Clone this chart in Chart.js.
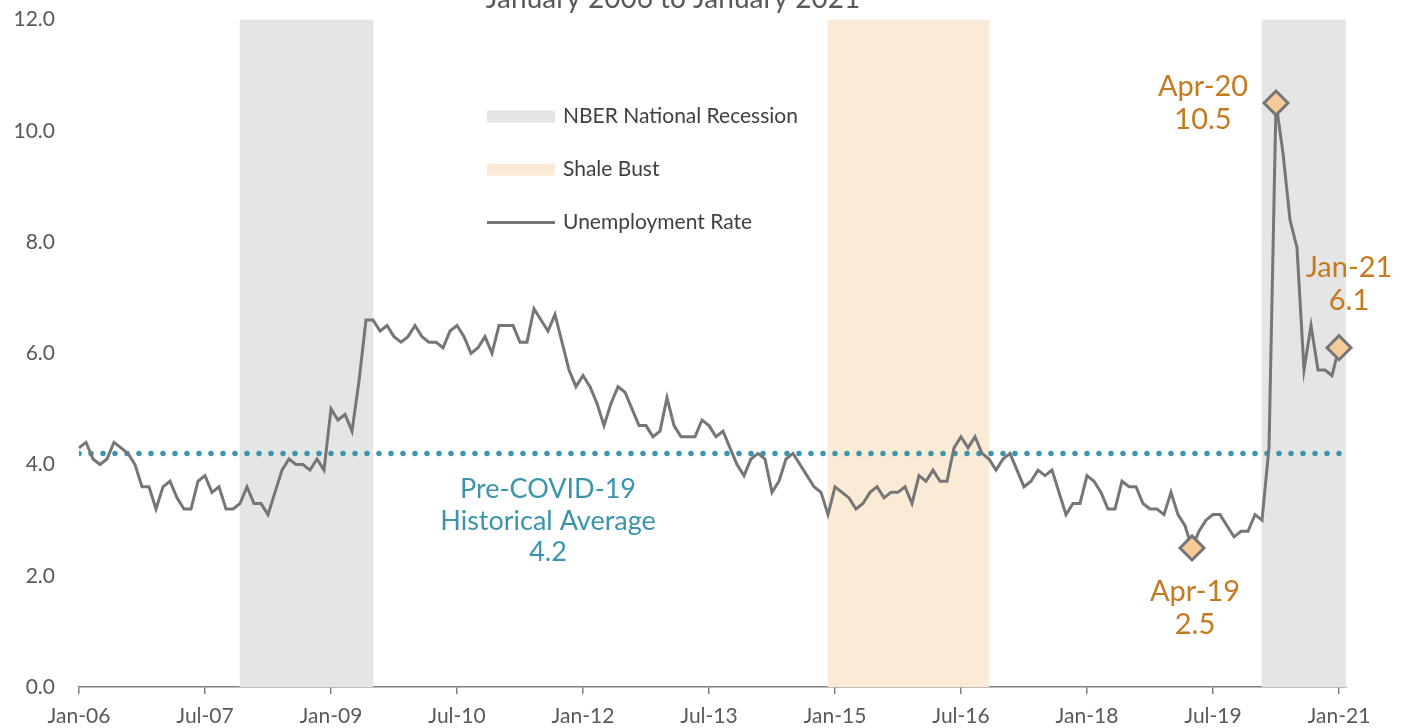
<!DOCTYPE html>
<html>
<head>
<meta charset="utf-8">
<title>Unemployment Rate</title>
<script src="https://cdn.jsdelivr.net/npm/chart.js@4/dist/chart.umd.min.js"></script>
<style>
    html, body { margin: 0; padding: 0; background: #fff; overflow: hidden; }
    #wrap { position: absolute; left: 0; top: -20px; width: 1408px; height: 748px; }
</style>
</head>
<body>
<div id="wrap"><canvas id="myChart" width="1408" height="748"></canvas></div>
<script>
'use strict';

// monthly categories Jan-06 .. Jan-21
let monthNames = ['Jan', 'Feb', 'Mar', 'Apr', 'May', 'Jun', 'Jul', 'Aug', 'Sep', 'Oct', 'Nov', 'Dec'];
let months = [];
for (let yr = 2006; yr <= 2021; yr++) {
    for (let m = 0; m < 12; m++) {
        months.push(monthNames[m] + '-' + String(yr).slice(2));
    }
}
months.length = 181;

let tickLabels = ['Jan-06', 'Jul-07', 'Jan-09', 'Jul-10', 'Jan-12', 'Jul-13', 'Jan-15', 'Jul-16', 'Jan-18', 'Jul-19', 'Jan-21'];

let unemploymentRate = [
    4.3, 4.4, 4.1, 4.0, 4.1, 4.4, 4.3, 4.2, 4.0, 3.6, 3.6, 3.2,   // 2006
    3.6, 3.7, 3.4, 3.2, 3.2, 3.7, 3.8, 3.5, 3.6, 3.2, 3.2, 3.3,   // 2007
    3.6, 3.3, 3.3, 3.1, 3.5, 3.9, 4.1, 4.0, 4.0, 3.9, 4.1, 3.9,   // 2008
    5.0, 4.8, 4.9, 4.6, 5.5, 6.6, 6.6, 6.4, 6.5, 6.3, 6.2, 6.3,   // 2009
    6.5, 6.3, 6.2, 6.2, 6.1, 6.4, 6.5, 6.3, 6.0, 6.1, 6.3, 6.0,   // 2010
    6.5, 6.5, 6.5, 6.2, 6.2, 6.8, 6.6, 6.4, 6.7, 6.2, 5.7, 5.4,   // 2011
    5.6, 5.4, 5.1, 4.7, 5.1, 5.4, 5.3, 5.0, 4.7, 4.7, 4.5, 4.6,   // 2012
    5.2, 4.7, 4.5, 4.5, 4.5, 4.8, 4.7, 4.5, 4.6, 4.3, 4.0, 3.8,   // 2013
    4.1, 4.2, 4.1, 3.5, 3.7, 4.1, 4.2, 4.0, 3.8, 3.6, 3.5, 3.1,   // 2014
    3.6, 3.5, 3.4, 3.2, 3.3, 3.5, 3.6, 3.4, 3.5, 3.5, 3.6, 3.3,   // 2015
    3.8, 3.7, 3.9, 3.7, 3.7, 4.3, 4.5, 4.3, 4.5, 4.2, 4.1, 3.9,   // 2016
    4.1, 4.2, 3.9, 3.6, 3.7, 3.9, 3.8, 3.9, 3.5, 3.1, 3.3, 3.3,   // 2017
    3.8, 3.7, 3.5, 3.2, 3.2, 3.7, 3.6, 3.6, 3.3, 3.2, 3.2, 3.1,   // 2018
    3.5, 3.1, 2.9, 2.5, 2.8, 3.0, 3.1, 3.1, 2.9, 2.7, 2.8, 2.8,   // 2019
    3.1, 3.0, 4.3, 10.5, 9.6, 8.4, 7.9, 5.7, 6.5, 5.7, 5.7, 5.6,  // 2020
    6.1                                                           // 2021
];

let preCovidAverage = 4.2;
let recessions = [['Dec-07', 'Jun-09'], ['Feb-20', 'Jan-21']];
let shaleBust = [['Dec-14', 'Oct-16']];
let highlights = ['Apr-19', 'Apr-20', 'Jan-21'];
let yMax = 12;

let fontFamily = 'Lato, "Noto Sans", sans-serif';
let grayText = '#595959';
let orange = '#C47A1E';
let teal = '#3A94AC';

// each month covers one unit from its own position to the next
function bandData(periods) {
    let out = [];
    periods.forEach(function (p) {
        for (let i = months.indexOf(p[0]); i <= months.indexOf(p[1]); i++) {
            out.push({ x: i + 0.5, y: yMax });
        }
    });
    return out;
}

let rateData = unemploymentRate.map(function (v, i) { return { x: i, y: v }; });
let avgData = [{ x: 0, y: preCovidAverage }, { x: months.length, y: preCovidAverage }];

// legend drawn inside the plot, stacked vertically
let plotLegend = {
    id: 'plotLegend',
    afterDraw(chart) {
        let ctx = chart.ctx;
        let area = chart.chartArea;
        let left = area.left + 408;
        let top = area.top + 97;
        let items = [chart.data.datasets[0], chart.data.datasets[1], chart.data.datasets[3]];
        ctx.save();
        ctx.font = '21px ' + fontFamily;
        ctx.textBaseline = 'middle';
        items.forEach(function (ds, n) {
            let cy = top + n * 53;
            if (ds.type === 'bar') {
                ctx.fillStyle = ds.backgroundColor;
                ctx.fillRect(left, cy - 6, 68, 12);
            } else {
                ctx.strokeStyle = ds.borderColor;
                ctx.lineWidth = 3;
                ctx.beginPath();
                ctx.moveTo(left, cy);
                ctx.lineTo(left + 68, cy);
                ctx.stroke();
            }
            ctx.fillStyle = '#404040';
            ctx.fillText(ds.label, left + 76, cy);
        });
        ctx.restore();
    }
};

// callouts for the highlighted months and the average line
let callouts = {
    id: 'callouts',
    afterDraw(chart) {
        let ctx = chart.ctx;
        let x = chart.scales.x;
        let y = chart.scales.y;
        let offsets = { 'Apr-19': [3, 44], 'Apr-20': [-73, -16], 'Jan-21': [10, -80] };
        ctx.save();
        ctx.textAlign = 'center';
        ctx.textBaseline = 'middle';
        ctx.font = '29px ' + fontFamily;
        ctx.fillStyle = orange;
        highlights.forEach(function (m) {
            let i = months.indexOf(m);
            let px = x.getPixelForValue(i) + offsets[m][0];
            let py = y.getPixelForValue(unemploymentRate[i]) + offsets[m][1];
            ctx.fillText(m, px, py);
            ctx.fillText(unemploymentRate[i].toFixed(1), px, py + 33);
        });
        ctx.font = '27px ' + fontFamily;
        ctx.fillStyle = teal;
        let ax = x.getPixelForValue(67);
        let ay = y.getPixelForValue(preCovidAverage);
        ctx.fillText('Pre-COVID-19', ax, ay + 36);
        ctx.fillText('Historical Average', ax, ay + 68);
        ctx.fillText(preCovidAverage.toFixed(1), ax, ay + 99);
        ctx.restore();
    }
};

let ctx = document.getElementById('myChart').getContext('2d');
let myChart = new Chart(ctx, {
    type: 'line',
    data: {
        datasets: [{
            type: 'bar',
            label: 'NBER National Recession',
            data: bandData(recessions),
            backgroundColor: '#E5E5E5',
            borderWidth: 0,
            barPercentage: 1,
            categoryPercentage: 1,
            grouped: false,
            order: 4
        }, {
            type: 'bar',
            label: 'Shale Bust',
            data: bandData(shaleBust),
            backgroundColor: '#FAEAD6',
            borderWidth: 0,
            barPercentage: 1,
            categoryPercentage: 1,
            grouped: false,
            order: 3
        }, {
            label: 'Pre-COVID-19 Historical Average',
            data: avgData,
            borderColor: teal,
            borderWidth: 5.5,
            borderDash: [0, 12],
            borderCapStyle: 'round',
            pointRadius: 0,
            order: 2
        }, {
            label: 'Unemployment Rate',
            data: rateData,
            borderColor: '#767676',
            borderWidth: 3,
            tension: 0,
            pointStyle: 'rectRot',
            pointRadius: function (c) { return highlights.includes(months[c.dataIndex]) ? 12 : 0; },
            pointBackgroundColor: '#F7CB97',
            pointBorderColor: '#767676',
            pointBorderWidth: 3,
            clip: false,
            order: 1
        }]
    },
    options: {
        responsive: false,
        animation: false,
        layout: { padding: { left: 0, right: 62, top: 0, bottom: 0 } },
        plugins: {
            legend: { display: false },
            tooltip: { enabled: false },
            title: {
                display: true,
                text: 'January 2006 to January 2021',
                color: grayText,
                font: { family: fontFamily, size: 28, weight: 'normal' },
                padding: { top: 2, bottom: 4 }
            }
        },
        scales: {
            x: {
                type: 'linear',
                min: 0,
                max: months.length,
                offset: false,
                grid: { offset: false, drawOnChartArea: false, drawTicks: true, tickLength: 7, color: '#7F7F7F', lineWidth: 1.5 },
                border: { display: true, color: '#7F7F7F', width: 1.5 },
                ticks: {
                    stepSize: 18,
                    includeBounds: false,
                    autoSkip: false,
                    maxRotation: 0,
                    padding: 10,
                    color: grayText,
                    font: { family: fontFamily, size: 21 },
                    callback: function (v) { return tickLabels[v / 18]; }
                },
                afterFit: function (s) { s.height = 41; }
            },
            y: {
                min: 0,
                max: yMax,
                grid: { display: false, drawTicks: false },
                border: { display: false },
                ticks: {
                    stepSize: 2,
                    padding: 24,
                    color: grayText,
                    font: { family: fontFamily, size: 21 },
                    callback: function (v) { return v.toFixed(1); }
                },
                afterFit: function (s) { s.width = 79; }
            }
        }
    },
    plugins: [plotLegend, callouts]
});
</script>
</body>
</html>
